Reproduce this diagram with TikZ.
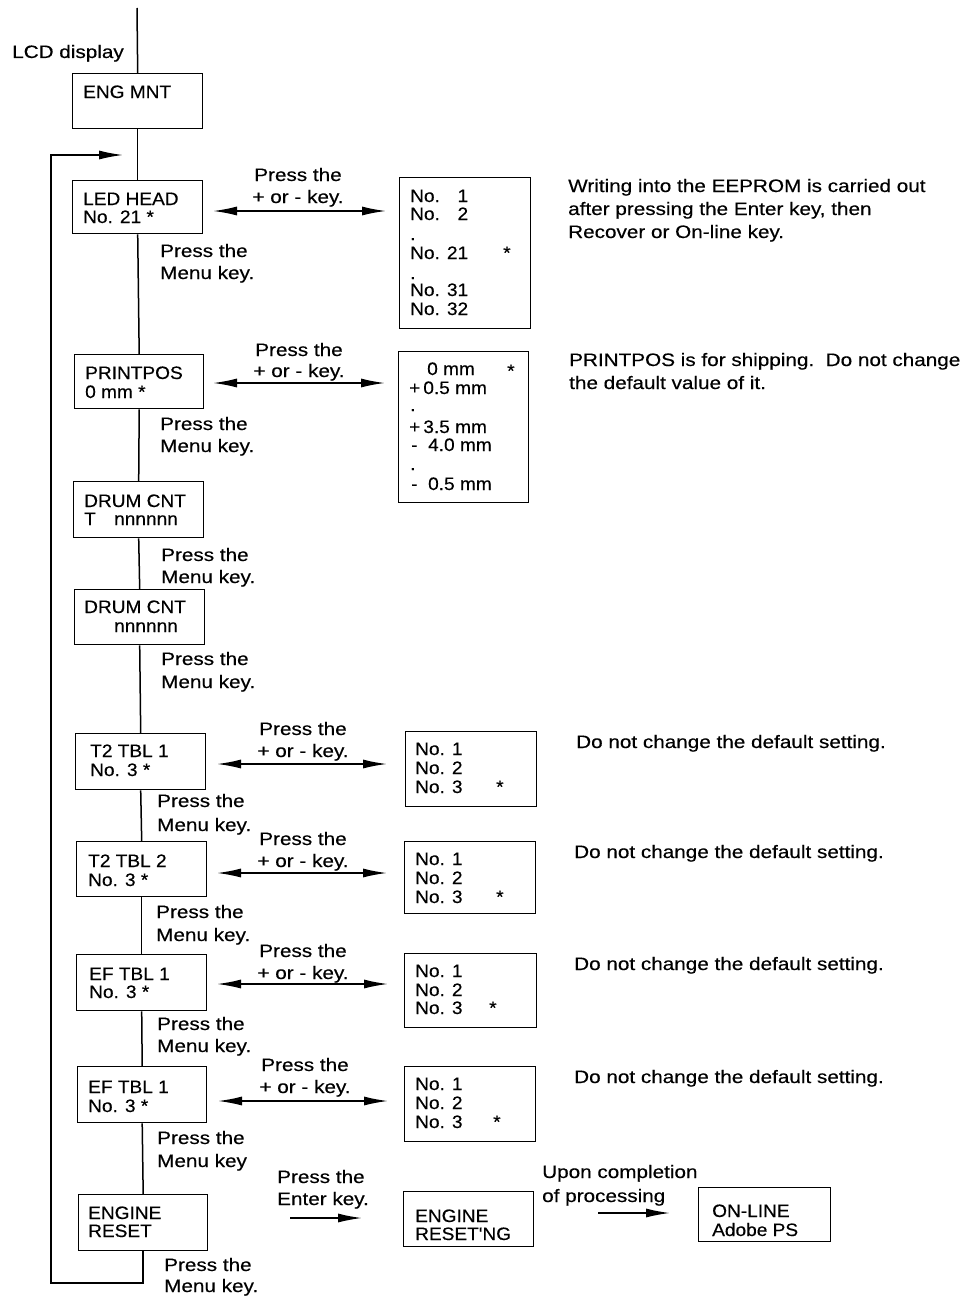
\documentclass[tikz,border=0pt]{standalone}
\usepackage{fontspec}
\setmainfont{Liberation Sans}[FakeStretch=1.15,FakeBold=0.4]
\newfontfamily\bxf{Liberation Sans}[FakeStretch=1.06,FakeBold=0.4]
\usetikzlibrary{arrows.meta}
\newcommand\bx[5]{\node[box, minimum width={#4-#2}, minimum height={#5-#3}] (#1) at (#2,#3) {};}
\begin{document}
\begin{tikzpicture}[x=1pt,y=-1pt,
 lab/.style={anchor=base west, inner sep=0pt, font=\fontsize{18}{20}\selectfont},
 labc/.style={anchor=base, inner sep=0pt, font=\fontsize{18}{20}\selectfont},
 btx/.style={anchor=base west, inner sep=0pt, font=\bxf\fontsize{18}{20}\selectfont},
 box/.style={draw, line width=1.4pt, inner sep=0pt, anchor=north west},
 ln/.style={line width=1.5pt},
 arr/.style={line width=1.5pt, -{Latex[length=24pt,width=9pt]}},
 dbl/.style={line width=1.5pt, {Latex[length=24pt,width=9pt]}-{Latex[length=24pt,width=9pt]}}]
\useasboundingbox (0,0) rectangle (964,1298);

% ---------- main column boxes ----------
\bx{eng}{72}{73}{202}{128}
\bx{led}{72}{180}{202}{233}
\bx{pp}{74}{354}{203}{408}
\bx{d1}{73}{481}{203}{537}
\bx{d2}{74}{589}{204}{644}
\bx{t1}{75}{733}{205}{789}
\bx{t2}{76}{841}{206}{896}
\bx{e1}{76}{954}{206}{1010}
\bx{e2}{77}{1066}{206}{1122}
\bx{er}{78}{1194}{207}{1250}

% ---------- right boxes ----------
\bx{l1}{399}{177}{530}{328}
\bx{l2}{398}{351}{528}{502}
\bx{l3}{405}{731}{536}{806}
\bx{l4}{404}{841}{535}{913}
\bx{l5}{404}{953}{536}{1027}
\bx{l6}{404}{1066}{535}{1141}
\bx{ern}{403}{1191}{533}{1246}
\bx{ol}{698}{1187}{830}{1241}

% ---------- texts in main boxes ----------
\node[lab] (lcd) at (12,58) {LCD display};
\node[btx] (teng) at (83,98) {ENG MNT};
\node[btx] (tled1) at (83,205) {LED HEAD};
\node[btx] (tled2) at (83,223) {No. 21 *};
\node[btx] (tpp1) at (85,379) {PRINTPOS};
\node[btx] (tpp2) at (85,398) {0 mm *};
\node[btx] (td11) at (84,507) {DRUM CNT};
\node[btx] (td12) at (84,525) {T};
\node[btx] (td13) at (114,525) {nnnnnn};
\node[btx] (td21) at (84,613) {DRUM CNT};
\node[btx] (td22) at (114,632) {nnnnnn};
\node[btx] (tt11) at (90,757) {T2 TBL 1};
\node[btx] (tt12) at (90,776) {No. 3 *};
\node[btx] (tt21) at (88,867) {T2 TBL 2};
\node[btx] (tt22) at (88,886) {No. 3 *};
\node[btx] (te11) at (89,980) {EF TBL 1};
\node[btx] (te12) at (89,998) {No. 3 *};
\node[btx] (te21) at (88,1093) {EF TBL 1};
\node[btx] (te22) at (88,1112) {No. 3 *};
\node[btx] (ter1) at (88,1219) {ENGINE};
\node[btx] (ter2) at (88,1237) {RESET};

% ---------- list box texts ----------
\node[btx] (l1a) at (410,202) {No. \phantom{2}1};
\node[btx] (l1b) at (410,220) {No. \phantom{2}2};
\node[btx] (l1c) at (410,240) {.};
\node[btx] (l1d) at (410,259) {No. 21};
\node[btx] (l1s) at (503,259) {*};
\node[btx] (l1e) at (410,279) {.};
\node[btx] (l1f) at (410,296) {No. 31};
\node[btx] (l1g) at (410,315) {No. 32};

\node[btx] (l2a) at (427,375) {0 mm};
\node[btx] (l2s) at (507,377) {*};
\node[btx] (l2b) at (409,394) {+\,0.5 mm};
\node[btx] (l2c) at (410,411) {.};
\node[btx] (l2d) at (409,433) {+\,3.5 mm};
\node[btx] (l2e) at (411,451) {-~~4.0 mm};
\node[btx] (l2f) at (410,470) {.};
\node[btx] (l2g) at (411,490) {-~~0.5 mm};

\node[btx] (l3a) at (415,755) {No. 1};
\node[btx] (l3b) at (415,774) {No. 2};
\node[btx] (l3c) at (415,793) {No. 3};
\node[btx] (l3s) at (496,793) {*};
\node[btx] (l4a) at (415,865) {No. 1};
\node[btx] (l4b) at (415,884) {No. 2};
\node[btx] (l4c) at (415,903) {No. 3};
\node[btx] (l4s) at (496,903) {*};
\node[btx] (l5a) at (415,977) {No. 1};
\node[btx] (l5b) at (415,996) {No. 2};
\node[btx] (l5c) at (415,1014) {No. 3};
\node[btx] (l5s) at (489,1014) {*};
\node[btx] (l6a) at (415,1090) {No. 1};
\node[btx] (l6b) at (415,1109) {No. 2};
\node[btx] (l6c) at (415,1128) {No. 3};
\node[btx] (l6s) at (493,1128) {*};

\node[btx] (tern1) at (415,1222) {ENGINE};
\node[btx] (tern2) at (415,1240) {RESET'NG};
\node[btx] (tol1) at (712,1217) {ON-LINE};
\node[btx] (tol2) at (712,1236) {Adobe PS};

% ---------- arrow labels ----------
\node[labc] (p1a) at (298,181) {Press the};
\node[labc] (p1b) at (298,203) {+ or - key.};
\node[labc] (p2a) at (299,356) {Press the};
\node[labc] (p2b) at (299,377) {+ or - key.};
\node[labc] (p3a) at (303,735) {Press the};
\node[labc] (p3b) at (303,757) {+ or - key.};
\node[labc] (p4a) at (303,845) {Press the};
\node[labc] (p4b) at (303,867) {+ or - key.};
\node[labc] (p5a) at (303,957) {Press the};
\node[labc] (p5b) at (303,979) {+ or - key.};
\node[labc] (p6a) at (305,1071) {Press the};
\node[labc] (p6b) at (305,1093) {+ or - key.};

% ---------- menu key labels ----------
\node[lab] (m1a) at (160,257) {Press the};
\node[lab] (m1b) at (160,279) {Menu key.};
\node[lab] (m2a) at (160,430) {Press the};
\node[lab] (m2b) at (160,452) {Menu key.};
\node[lab] (m3a) at (161,561) {Press the};
\node[lab] (m3b) at (161,583) {Menu key.};
\node[lab] (m4a) at (161,665) {Press the};
\node[lab] (m4b) at (161,688) {Menu key.};
\node[lab] (m5a) at (157,807) {Press the};
\node[lab] (m5b) at (157,831) {Menu key.};
\node[lab] (m6a) at (156,918) {Press the};
\node[lab] (m6b) at (156,941) {Menu key.};
\node[lab] (m7a) at (157,1030) {Press the};
\node[lab] (m7b) at (157,1052) {Menu key.};
\node[lab] (m8a) at (157,1144) {Press the};
\node[lab] (m8b) at (157,1167) {Menu key};
\node[lab] (m9a) at (164,1271) {Press the};
\node[lab] (m9b) at (164,1292) {Menu key.};

\node[lab] (en1) at (277,1183) {Press the};
\node[lab] (en2) at (277,1205) {Enter key.};
\node[lab] (up1) at (542,1178) {Upon completion};
\node[lab] (up2) at (542,1202) {of processing};

% ---------- notes ----------
\node[lab] (n1a) at (568,192) {Writing into the EEPROM is carried out};
\node[lab] (n1b) at (568,215) {after pressing the Enter key, then};
\node[lab] (n1c) at (568,238) {Recover or On-line key.};
\node[lab] (n2a) at (569,366) {PRINTPOS is for shipping.\ \ Do not change};
\node[lab] (n2b) at (569,389) {the default value of it.};
\node[lab] (n3) at (576,748) {Do not change the default setting.};
\node[lab] (n4) at (574,858) {Do not change the default setting.};
\node[lab] (n5) at (574,970) {Do not change the default setting.};
\node[lab] (n6) at (574,1083) {Do not change the default setting.};

% ---------- main line ----------
\coordinate (top) at (137,8);
\draw[ln] (top) -- (eng.north);
\draw[ln] (eng.south) -- (led.north);
\draw[ln] (led.south) -- (pp.north);
\draw[ln] (pp.south) -- (d1.north);
\draw[ln] (d1.south) -- (d2.north);
\draw[ln] (d2.south) -- (t1.north);
\draw[ln] (t1.south) -- (t2.north);
\draw[ln] (t2.south) -- (e1.north);
\draw[ln] (e1.south) -- (e2.north);
\draw[ln] (e2.south) -- (er.north);

% ---------- loop back ----------
\coordinate (lb) at (51,1283);
\coordinate (lend) at (123,155);
\draw[arr] (er.south) |- (lb) |- (lend);

% ---------- double arrows ----------
\coordinate (a1l) at (213,211); \coordinate (a1r) at (386,211);
\coordinate (a2l) at (213,383); \coordinate (a2r) at (385,383);
\coordinate (a3l) at (217,764); \coordinate (a3r) at (387,764);
\coordinate (a4l) at (217,873); \coordinate (a4r) at (387,873);
\coordinate (a5l) at (217,984); \coordinate (a5r) at (388,984);
\coordinate (a6l) at (218,1101); \coordinate (a6r) at (388,1101);
\draw[dbl] (a1l) -- (a1r);
\draw[dbl] (a2l) -- (a2r);
\draw[dbl] (a3l) -- (a3r);
\draw[dbl] (a4l) -- (a4r);
\draw[dbl] (a5l) -- (a5r);
\draw[dbl] (a6l) -- (a6r);

% ---------- bottom arrows ----------
\coordinate (a7l) at (290,1218); \coordinate (a7r) at (362,1218);
\coordinate (a8l) at (598,1213); \coordinate (a8r) at (670,1213);
\draw[arr] (a7l) -- (a7r);
\draw[arr] (a8l) -- (a8r);
\end{tikzpicture}
\end{document}
